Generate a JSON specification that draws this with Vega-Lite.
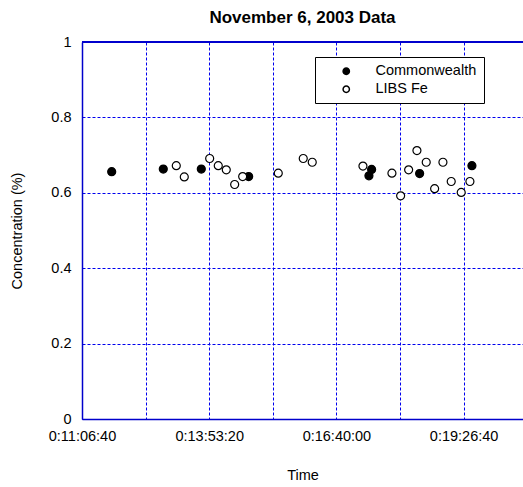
{
  "$schema": "https://vega.github.io/schema/vega-lite/v6.json",
  "width": 441,
  "height": 377,
  "autosize": {"type": "none"},
  "padding": {"left": 82, "top": 42, "right": 0, "bottom": 68},
  "title": {"text": "November 6, 2003 Data", "fontSize": 17, "fontWeight": "bold", "font": "Liberation Sans", "color": "black", "offset": 7},
  "config": {
    "font": "Liberation Sans",
    "view": {"stroke": null},
    "axis": {"gridColor": "#0000ee", "gridDash": [3, 2], "gridOpacity": 1, "gridWidth": 1, "domainColor": "#0000cc", "domainWidth": 1.5, "ticks": false, "labelFontSize": 14.5, "labelColor": "black", "titleFontSize": 14.5, "titleFontWeight": "normal", "titleColor": "black", "labelFlush": false}
  },
  "data": {"values": [
    {"t": 42335, "c": 0.656, "series": "Commonwealth"},
    {"t": 46390, "c": 0.663, "series": "Commonwealth"},
    {"t": 49378, "c": 0.663, "series": "Commonwealth"},
    {"t": 53103, "c": 0.643, "series": "Commonwealth"},
    {"t": 62558, "c": 0.645, "series": "Commonwealth"},
    {"t": 62769, "c": 0.662, "series": "Commonwealth"},
    {"t": 66543, "c": 0.651, "series": "Commonwealth"},
    {"t": 70654, "c": 0.672, "series": "Commonwealth"},
    {"t": 47412, "c": 0.672, "series": "LIBS Fe"},
    {"t": 48041, "c": 0.642, "series": "LIBS Fe"},
    {"t": 50037, "c": 0.691, "series": "LIBS Fe"},
    {"t": 50713, "c": 0.672, "series": "LIBS Fe"},
    {"t": 51342, "c": 0.661, "series": "LIBS Fe"},
    {"t": 52002, "c": 0.622, "series": "LIBS Fe"},
    {"t": 52631, "c": 0.643, "series": "LIBS Fe"},
    {"t": 55430, "c": 0.652, "series": "LIBS Fe"},
    {"t": 57394, "c": 0.691, "series": "LIBS Fe"},
    {"t": 58101, "c": 0.681, "series": "LIBS Fe"},
    {"t": 62087, "c": 0.671, "series": "LIBS Fe"},
    {"t": 64366, "c": 0.652, "series": "LIBS Fe"},
    {"t": 65050, "c": 0.592, "series": "LIBS Fe"},
    {"t": 65679, "c": 0.661, "series": "LIBS Fe"},
    {"t": 66331, "c": 0.712, "series": "LIBS Fe"},
    {"t": 67062, "c": 0.681, "series": "LIBS Fe"},
    {"t": 67723, "c": 0.611, "series": "LIBS Fe"},
    {"t": 68375, "c": 0.681, "series": "LIBS Fe"},
    {"t": 69027, "c": 0.630, "series": "LIBS Fe"},
    {"t": 69813, "c": 0.601, "series": "LIBS Fe"},
    {"t": 70497, "c": 0.630, "series": "LIBS Fe"}
  ]},
  "layer": [
    {
      "mark": {"type": "point", "shape": "circle", "size": 64, "stroke": "black", "strokeWidth": 1.2, "opacity": 1, "filled": false},
      "encoding": {
        "x": {"field": "t", "type": "quantitative",
          "scale": {"domain": [40000, 74670], "nice": false, "zero": false},
          "axis": {"title": "Time", "titlePadding": 26, "labelPadding": 10,
            "values": [40000, 45000, 50000, 55000, 60000, 65000, 70000],
            "labelExpr": "datum.value % 10000 == 0 ? '0:' + floor(datum.value/3600) + ':' + format(floor((datum.value % 3600)/60), '02d') + ':' + format(datum.value % 60, '02d') : ''"}},
        "y": {"field": "c", "type": "quantitative",
          "scale": {"domain": [0, 1], "nice": false},
          "axis": {"title": "Concentration (%)", "titlePadding": 26, "labelPadding": 11, "grid": true, "values": [0, 0.2, 0.4, 0.6, 0.8, 1], "format": "~g"}},
        "fill": {"field": "series", "type": "nominal",
          "scale": {"domain": ["Commonwealth", "LIBS Fe"], "range": ["black", "white"]},
          "legend": {"title": null, "orient": "none", "legendX": 233, "legendY": 15, "strokeColor": "black", "fillColor": "white", "padding": 7, "symbolStrokeColor": "black", "symbolSize": 40, "labelFontSize": 14.5, "symbolOffset": 17, "labelOffset": 22, "rowPadding": 3, "labelLimit": 200, "offset": 0}}
      }
    },
    {
      "mark": {"type": "rule", "color": "#0000cc", "strokeWidth": 1.5},
      "encoding": {"y": {"datum": 1, "type": "quantitative"}}
    }
  ]
}
